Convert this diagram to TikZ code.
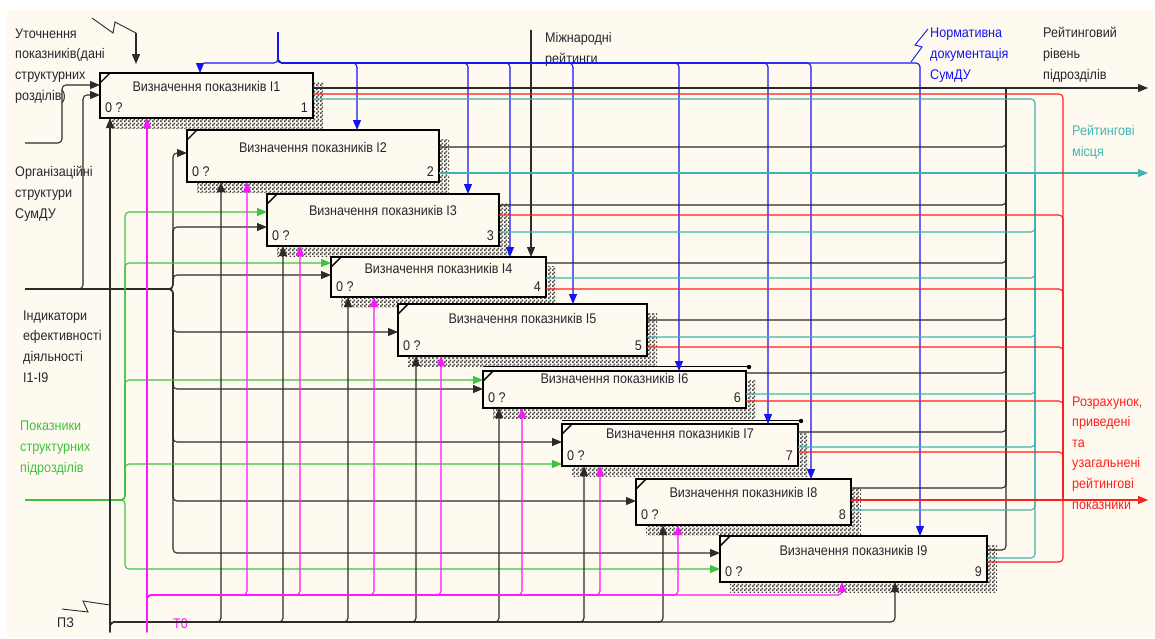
\documentclass[tikz,border=0pt]{standalone}
\usepackage{fontspec}
\setmainfont{Liberation Sans}[FakeStretch=0.9]
\usetikzlibrary{arrows.meta,patterns}

\definecolor{cream}{HTML}{FFFAF0}
\definecolor{lineblack}{HTML}{2B2B2B}
\definecolor{textdark}{HTML}{26262E}
\definecolor{idefblue}{HTML}{1414F2}
\definecolor{idefred}{HTML}{FF1E1E}
\definecolor{idefteal}{HTML}{40B4B4}
\definecolor{idefgreen}{HTML}{3CC43C}
\definecolor{idefmag}{HTML}{FF14FF}

% checkered fill for the drop shadows
\pgfdeclarepatternformonly{shadowchecker}{\pgfpointorigin}{\pgfpoint{4pt}{4pt}}{\pgfpoint{4pt}{4pt}}{%
  \pgfpathrectangle{\pgfpointorigin}{\pgfpoint{2pt}{2pt}}%
  \pgfpathrectangle{\pgfpoint{2pt}{2pt}}{\pgfpoint{2pt}{2pt}}%
  \pgfusepath{fill}}

\newcommand{\lblfont}{\fontsize{14}{20.6}\selectfont}

\tikzset{
  fbox/.style={draw=black, line width=2.6pt, fill=cream, inner sep=0pt, outer sep=0pt},
  shadowfill/.style={pattern=shadowchecker, pattern color=black!75},
  cornertick/.style={draw=black, line width=1.4pt},
  boxtext/.style={font=\lblfont, text=textdark, inner sep=0pt},
  % multi-line labels are placed by the baseline of their last line
  lbl/.style={font=\lblfont, align=left, inner sep=0pt, anchor=base west, text=textdark},
  conn/.style={line width=1.1pt, rounded corners=4pt},
  blk/.style={conn, draw=lineblack},
  blkthin/.style={draw=lineblack, line width=0.9pt},
  blu/.style={conn, draw=idefblue},
  grn/.style={conn, draw=idefgreen},
  mag/.style={conn, draw=idefmag},
  rd/.style={conn, draw=idefred},
  tel/.style={conn, draw=idefteal},
  tip/.style={-{Triangle[length=10pt,width=8pt]}},
  frameline/.style={draw=black, line width=1pt},
}

% activity box: name, left, top, right, bottom, title, number, title baseline
\newcommand{\funcbox}[8]{%
  \fill[shadowfill] (#2+10,#3+9) rectangle (#4+10,#5+10);
  \node[fbox, minimum width={#4-#2}, minimum height={#5-#3}, anchor=north west] (#1) at (#2,#3) {};
  \draw[cornertick] (#2,#3+10) -- (#2+10,#3);
  \node[boxtext, anchor=base] at ({(#2+#4)/2},#8) {#6};
  \node[boxtext, anchor=base west] at (#2+5,#5-6) {0 ?};
  \node[boxtext, anchor=base east] at (#4-5,#5-6) {#7};
}

\begin{document}
\begin{tikzpicture}[x=1pt,y=-1pt]
\useasboundingbox (0,0) rectangle (1155,638);
\fill[white] (0,0) rectangle (1155,638);
\fill[cream] (7,10) rectangle (1154,637);

% labels of the boundary arrows
\node[lbl] (lUtoch) at (15,100) {Уточнення\\показників(дані\\структурних\\розділів)};
\node[lbl] (lOrg) at (15,218) {Організаційні\\структури\\СумДУ};
\node[lbl] (lInd) at (23,382) {Індикатори\\ефективності\\діяльності\\I1-I9};
\node[lbl, text=idefgreen] (lShow) at (20,472) {Показники\\структурних\\підрозділів};
\node[lbl] (lIntl) at (545,63) {Міжнародні\\рейтинги};
\node[lbl, text=idefblue] (lNorm) at (930,79) {Нормативна\\документація\\СумДУ};
\node[lbl] (lLevel) at (1043,79) {Рейтинговий\\рівень\\підрозділів};
\node[lbl, text=idefteal] (lPlace) at (1072,156) {Рейтингові\\місця};
\node[lbl, text=idefred] (lCalc) at (1072,509) {Розрахунок,\\приведені\\та\\узагальнені\\рейтингові\\показники};
\node[lbl] (lPZ) at (57,627) {ПЗ};
\node[lbl, text=idefmag] (lT0) at (173,628) {Т0};

% activity boxes
\funcbox{b1}{100}{73}{313}{118}{Визначення показників I1}{1}{91}
\funcbox{b2}{187}{130}{439}{182}{Визначення показників I2}{2}{152}
\funcbox{b3}{267}{194}{499}{246}{Визначення показників I3}{3}{215}
\funcbox{b4}{331}{257}{546}{297}{Визначення показників I4}{4}{273}
\funcbox{b5}{398}{304}{647}{356}{Визначення показників I5}{5}{323}
\funcbox{b6}{483}{371}{746}{408}{Визначення показників I6}{6}{383}
\funcbox{b7}{562}{424}{798}{466}{Визначення показників I7}{7}{438}
\funcbox{b8}{636}{479}{851}{525}{Визначення показників I8}{8}{497}
\funcbox{b9}{720}{536}{987}{582}{Визначення показників I9}{9}{555}

% selection frames over boxes 6 and 7
\draw[frameline] (483,366) -- (749,366);
\fill[black] (749,367) circle (2.2pt);
\draw[frameline] (562,420) -- (801,420);
\fill[black] (801,421) circle (2.2pt);

% free ends of the boundary arrows
\coordinate (srcTop) at (136,33);
\coordinate (srcNorm) at (278,32);
\coordinate (busBlue) at (278,63);
\coordinate (srcRate) at (531,30);
\coordinate (srcOrg) at (25,143);
\coordinate (srcInd) at (25,289);
\coordinate (srcShow) at (25,500);
\coordinate (srcPZ) at (110,632);
\coordinate (srcT0) at (147,632);
\coordinate (outLevel) at (1148,88);
\coordinate (outPlace) at (1148,173);
\coordinate (outCalc) at (1148,500);

% controls
\draw[blkthin] (92,18) -- (113,33) -- (115,22) -- (srcTop);
\draw[blk,tip,shorten >=9pt] (srcTop) -- (b1.north -| srcTop);
\draw[blk,tip] (srcRate) -- (b4.north -| srcRate);
\draw[draw=idefblue, line width=0.9pt] (928,29) -- (915,45) -- (922,47) -- (911,62);
\foreach \b/\x in {b1/200,b2/357,b3/468,b4/510,b5/573,b6/679,b7/768,b8/811,b9/920}
  \draw[blu,tip] (srcNorm) -- (busBlue) -| (\b.north -| \x,0);

% inputs
\draw[blk,tip] (srcOrg) -- (62,143) -- (62,85) -- (b1.west |- 0,85);
\draw[blk,tip] (srcInd) -- (83,289) -- (83,95) -- (b1.west |- 0,95);
\foreach \b/\y in {b2/153,b3/227,b4/275,b5/332,b6/389,b7/442,b8/501,b9/553}
  \draw[blk,tip] (srcInd) -- (173,289) |- (\b.west |- 0,\y);
\foreach \b/\y in {b3/212,b4/263,b6/380,b7/464,b9/569}
  \draw[grn,tip] (srcShow) -- (125,500) |- (\b.west |- 0,\y);

% mechanisms
\draw[blkthin] (62,609) -- (88,612) -- (83,601) -- (110,605);
\draw[blk,tip] (srcPZ) -- (b1.south -| srcPZ);
\foreach \b/\x in {b2/221,b3/283,b4/348,b5/416,b6/499,b7/584,b8/663,b9/895}
  \draw[blk,tip] (srcPZ) -- (110,622) -| (\b.south -| \x,0);
\draw[mag,tip] (srcT0) -- (b1.south -| srcT0);
\foreach \b/\x in {b2/247,b3/300,b4/374,b5/441,b6/522,b7/600,b8/678,b9/842}
  \draw[mag,tip] (srcT0) -- (147,595) -| (\b.south -| \x,0);

% outputs
\draw[blk,tip] (b1.east |- 0,88) -- (outLevel);
\foreach \b/\y in {b2/147,b3/205,b4/263,b5/320,b6/373,b7/432,b8/488,b9/550}
  \draw[blk] (\b.east |- 0,\y) -| (1006,88);
\draw[tel,tip] (b2.east |- 0,173) -- (outPlace);
\foreach \b/\y in {b1/99,b3/232,b4/278,b5/337,b6/394,b7/447,b8/510,b9/558}
  \draw[tel] (\b.east |- 0,\y) -| (1035,173);
\draw[rd,tip] (b8.east |- 0,500) -- (outCalc);
\foreach \b/\y in {b1/94,b3/215,b4/289,b5/347,b6/401,b7/452,b9/562}
  \draw[rd] (\b.east |- 0,\y) -| (1063,500);
\end{tikzpicture}
\end{document}
